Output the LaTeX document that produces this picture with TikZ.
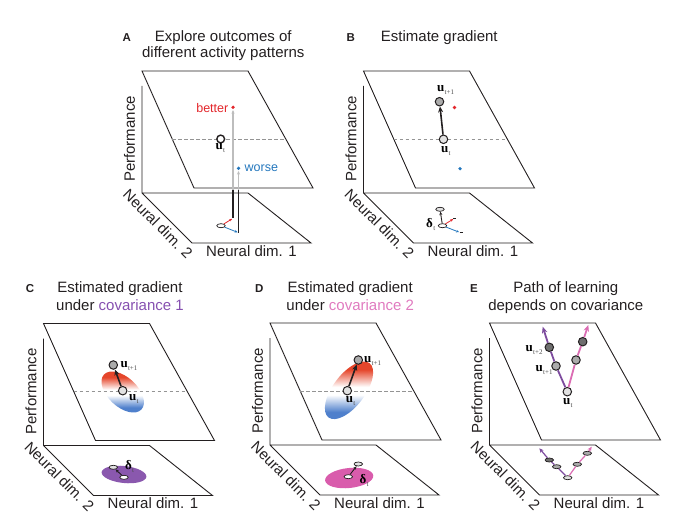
\documentclass[tikz,border=0pt]{standalone}
\usepackage{fontspec}
\setmainfont{Liberation Sans}
\newfontfamily\serfam{Liberation Serif}
\usetikzlibrary{arrows.meta,shapes.geometric}

\definecolor{ink}{HTML}{231F20}
\definecolor{dotred}{HTML}{E3262B}
\definecolor{dotblue}{HTML}{2477BD}
\definecolor{purp}{HTML}{7D4B9E}
\definecolor{pinkc}{HTML}{DB6CB3}
\definecolor{cov1}{HTML}{8650B0}
\definecolor{cov2}{HTML}{E07ABF}
\definecolor{cov1fill}{HTML}{8A58AE}
\definecolor{cov2fill}{HTML}{D95CAC}
\definecolor{gradred}{HTML}{E5462B}
\definecolor{gradblue}{HTML}{4F80CC}
\definecolor{lightfill}{HTML}{E2E2E2}
\definecolor{midfill}{HTML}{ABABAB}
\definecolor{darkfill}{HTML}{6E6E6E}
\definecolor{ghost}{HTML}{BDBDBD}

\pgfdeclareverticalshading{rwb}{100bp}{color(0bp)=(gradblue); color(31bp)=(gradblue); color(46bp)=(white); color(53bp)=(white); color(68bp)=(gradred); color(100bp)=(gradred)}

\newcommand\ulab[1]{{\serfam\bfseries\fontsize{13}{13}\selectfont u}\kern0.3pt\raisebox{-3pt}{\serfam\fontsize{7}{7}\selectfont\color{black!70}#1}}
\newcommand\dlab{{\serfam\bfseries\fontsize{13}{13}\selectfont δ}\kern0.3pt\raisebox{-3.5pt}{\serfam\fontsize{7}{7}\selectfont\color{black!70}t}}

\tikzset{
  plane/.style={draw=ink, line width=0.9pt},
  axlab/.style={font=\fontsize{15}{17}\selectfont, text=ink, inner sep=0pt},
  ttl/.style={font=\fontsize{15}{17}\selectfont, text=ink, inner sep=0pt, anchor=base},
  letter/.style={font=\bfseries\fontsize{11.5}{12}\selectfont, text=ink, inner sep=0pt, anchor=base},
  dottext/.style={font=\fontsize{12.5}{13}\selectfont, inner sep=0pt},
  midline/.style={draw=black!42, line width=0.8pt, dash pattern=on 3.5pt off 2.5pt},
  ucirc/.style={circle, draw=ink, line width=1pt, minimum size=8.5pt, inner sep=0pt},
  smell/.style={ellipse, draw=ink, line width=0.7pt, minimum width=8.5pt, minimum height=4pt, inner sep=0pt},
  dotmark/.style={circle, minimum size=3.6pt, inner sep=0pt},
  lab/.style={anchor=base west, inner sep=0pt},
  gradarrow/.style={draw=ink, line width=1.6pt, -{Stealth[length=6pt,width=5pt]}},
  thinarrow/.style={draw=ink, line width=0.9pt, -{Stealth[length=3.5pt,width=3pt]}},
  redarrow/.style={draw=dotred, line width=0.8pt, -{Stealth[length=3pt,width=2.6pt]}, shorten >=1pt},
  bluearrow/.style={draw=dotblue, line width=0.8pt, -{Stealth[length=3pt,width=2.6pt]}, shorten >=1pt},
  ghostarrow/.style={draw=ghost, line width=1.2pt, -{Stealth[length=3.5pt,width=3.2pt]}, shorten >=0.8pt},
  stem/.style={draw=ink, line width=1.1pt},
  purpline/.style={draw=purp, line width=1.8pt, -{Stealth[length=6.5pt,width=5.5pt]}},
  pinkline/.style={draw=pinkc, line width=1.8pt, -{Stealth[length=6.5pt,width=5.5pt]}},
  purpthin/.style={draw=purp, line width=1.2pt, -{Stealth[length=4.5pt,width=4pt]}},
  pinkthin/.style={draw=pinkc, line width=1.2pt, -{Stealth[length=4.5pt,width=4pt]}},
  pics/frame/.style={code={
    \draw[plane] (0,0) -- (106,0) -- (171,117) -- (52,117) -- cycle;
    \draw[plane] (0,15) -- (0,122) -- (106,122) -- (169,172) -- (50,172) -- (0,122);
    \node[axlab, rotate=90] (-perf) at (-12.5,68) {Performance};
    \node[axlab, rotate=-45] (-nd2) at (16,153) {Neural dim. 2};
    \node[axlab] (-nd1) at (109.5,180) {Neural dim. 1};
  }},
}

\begin{document}
\begin{tikzpicture}[x=1pt,y=-1pt]
\useasboundingbox (0,0) rectangle (677,521);

% ---------------- A ----------------
\node[letter] (labA) at (126.7,41.5) {A};
\node[ttl] (ttlA1) at (223.3,41.5) {Explore outcomes of};
\node[ttl] (ttlA2) at (223.3,58) {different activity patterns};
\pic (fA) at (142,71) {frame};
\draw[midline] (172.2,139) -- (285.8,139);
\node[dotmark, fill=dotred] (A-better) at (233,107.3) {};
\node[dottext, text=dotred, anchor=east] (A-bettertxt) at (228.5,108.2) {better};
\node[dotmark, fill=dotblue] (A-worse) at (238.5,168.3) {};
\node[dottext, text=dotblue, anchor=west] (A-worsetxt) at (244.5,168.3) {worse};
\coordinate (A-s1) at (233,190);
\coordinate (A-s2) at (238.5,190);
\coordinate (A-e1) at (233,218.3);
\coordinate (A-e2) at (238.5,232.7);
\draw[ghostarrow] (A-s1) -- (A-better);
\draw[ghostarrow] (A-s2) -- (A-worse);
\draw[stem] (A-s1) -- (A-e1);
\draw[stem] (A-s2) -- (A-e2);
\node[ucirc, fill=white, line width=1.4pt, minimum size=7.8pt] (A-ut) at (220.7,139) {};
\node[lab] (A-utl) at (215.5,150) {\ulab{t}};
\node[smell, fill=white] (A-ell) at (221,225.7) {};
\draw[redarrow] (A-ell) -- (A-e1);
\draw[bluearrow] (A-ell) -- (A-e2);

% ---------------- B ----------------
\node[letter] (labB) at (350.7,41.5) {B};
\node[ttl] (ttlB1) at (439.3,41.5) {Estimate gradient};
\pic (fB) at (363.5,71) {frame};
\draw[midline] (393.7,139.3) -- (507.3,139.3);
\node[dotmark, fill=dotred] (B-red) at (454.5,107.5) {};
\node[dotmark, fill=dotblue] (B-blue) at (460,168.7) {};
\node[ucirc, fill=lightfill] (B-ut) at (443.5,139.3) {};
\node[ucirc, fill=midfill] (B-ut1) at (439.5,101.7) {};
\draw[gradarrow] (B-ut) -- (B-ut1);
\node[lab] (B-ut1l) at (437,91.5) {\ulab{t+1}};
\node[lab] (B-utl) at (441,152.5) {\ulab{t}};
\node[smell, fill=white] (B-e0) at (442.5,225.7) {};
\node[smell, fill=lightfill] (B-e1) at (440,209.3) {};
\draw[thinarrow] (B-e0) -- (B-e1);
\coordinate (B-r) at (454.5,218.3);
\coordinate (B-b) at (460.5,232.7);
\draw[redarrow, shorten >=1.5pt] (B-e0) -- (B-r);
\draw[bluearrow, shorten >=1.5pt] (B-e0) -- (B-b);
\draw[stem] (453.3,218.3) -- (456.3,218.3);
\draw[stem] (459.7,232.7) -- (462.7,232.7);
\node[lab] (B-dl) at (426,227.3) {\dlab};

% ---------------- C ----------------
\node[letter] (labC) at (30,292.5) {C};
\node[ttl] (ttlC1) at (120,293) {Estimated gradient};
\node[ttl] (ttlC2) at (120,310.5) {under \textcolor{cov1}{covariance 1}};
\pic (fC) at (43.5,323.5) {frame};
\begin{scope}
  \clip[rotate around={-43:(122.7,392)}] (122.7,392) ellipse [x radius=25.6, y radius=14.7];
  \shade[shading=rwb] (95,371.5) rectangle (151,412.5);
\end{scope}
\draw[midline] (73.5,391) -- (187,391);
\node[ucirc, fill=lightfill] (C-ut) at (122.7,390.7) {};
\node[ucirc, fill=midfill] (C-ut1) at (113.3,365) {};
\draw[gradarrow] (C-ut) -- (C-ut1);
\node[lab] (C-ut1l) at (120.3,367.3) {\ulab{t+1}};
\node[lab] (C-utl) at (129,400.7) {\ulab{t}};
\fill[cov1fill, rotate around={-6:(124,474.5)}] (124,474.5) ellipse [x radius=22.5, y radius=8.5];
\node[smell, fill=white] (C-e0) at (124,477.3) {};
\node[smell, fill=lightfill] (C-e1) at (113.3,467.3) {};
\draw[thinarrow] (C-e0) -- (C-e1);
\node[lab] (C-dl) at (124.8,469.3) {\dlab};

% ---------------- D ----------------
\node[letter] (labD) at (259.3,292.5) {D};
\node[ttl] (ttlD1) at (350.2,293) {Estimated gradient};
\node[ttl] (ttlD2) at (350.2,310.5) {under \textcolor{cov2}{covariance 2}};
\pic (fD) at (270,323) {frame};
\begin{scope}
  \clip[rotate around={53:(349,390.3)}] (349,390.3) ellipse [x radius=34, y radius=16];
  \shade[shading=rwb] (322,361.6) rectangle (376,419);
\end{scope}
\draw[midline] (300.2,391) -- (413.8,391);
\node[ucirc, fill=lightfill] (D-ut) at (347.3,390.7) {};
\node[ucirc, fill=midfill] (D-ut1) at (358.3,360) {};
\draw[gradarrow] (D-ut) -- (D-ut1);
\node[lab] (D-ut1l) at (364,362.3) {\ulab{t+1}};
\node[lab] (D-utl) at (345.7,402.3) {\ulab{t}};
\fill[cov2fill, rotate around={6:(349.2,478)}] (349.2,478) ellipse [x radius=24.2, y radius=10];
\node[smell, fill=white] (D-e0) at (348.3,476.7) {};
\node[smell, fill=lightfill] (D-e1) at (358.3,464) {};
\draw[thinarrow] (D-e0) -- (D-e1);
\node[lab] (D-dl) at (359.3,483.3) {\dlab};

% ---------------- E ----------------
\node[letter] (labE) at (474,292.5) {E};
\node[ttl] (ttlE1) at (565.8,293) {Path of learning};
\node[ttl] (ttlE2) at (565.8,310.5) {depends on covariance};
\pic (fE) at (489.5,323) {frame};
\node[ucirc, fill=lightfill] (E-ut) at (567.3,391.7) {};
\node[ucirc, fill=midfill] (E-a1) at (556,366) {};
\node[ucirc, fill=darkfill] (E-a2) at (549.3,347.3) {};
\coordinate (E-atip) at (542.7,326.7);
\node[ucirc, fill=midfill] (E-b1) at (576,360) {};
\node[ucirc, fill=darkfill] (E-b2) at (582.7,341.7) {};
\coordinate (E-btip) at (588.3,325);
\draw[purpline] (E-ut) -- (E-a1) -- (E-a2) -- (E-atip);
\draw[pinkline] (E-ut) -- (E-b1) -- (E-b2) -- (E-btip);
\node[lab] (E-a2l) at (525.5,351.7) {\ulab{t+2}};
\node[lab] (E-a1l) at (535.5,371.7) {\ulab{t+1}};
\node[lab] (E-utl) at (563,404) {\ulab{t}};
\node[smell, fill=lightfill] (E-c0) at (567.7,477.7) {};
\node[smell, fill=midfill] (E-c1) at (556.7,466.7) {};
\node[smell, fill=darkfill] (E-c2) at (549.3,460) {};
\coordinate (E-ctip) at (539.3,448.3);
\node[smell, fill=midfill] (E-d1) at (577.3,464.3) {};
\node[smell, fill=midfill] (E-d2) at (587.3,453.3) {};
\coordinate (E-dtip) at (591.7,446.7);
\draw[purpthin] (E-c0) -- (E-c1) -- (E-c2) -- (E-ctip);
\draw[pinkthin] (E-c0) -- (E-d1) -- (E-d2) -- (E-dtip);
\end{tikzpicture}
\end{document}
